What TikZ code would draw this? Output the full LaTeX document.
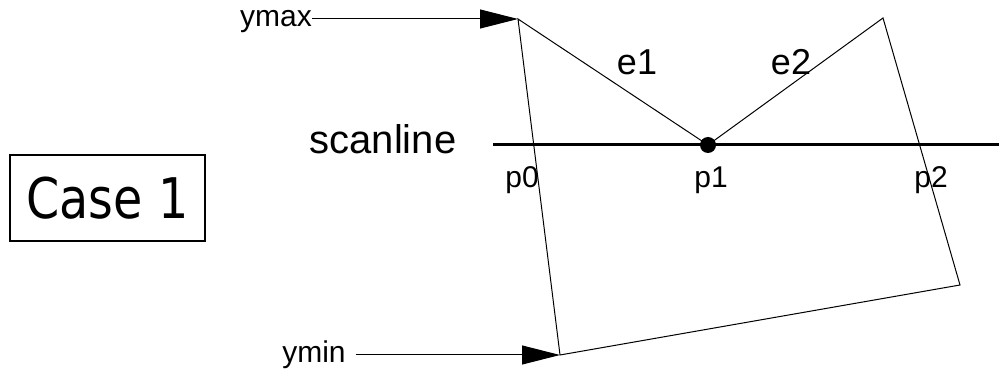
\documentclass[tikz,border=0pt]{standalone}
\usepackage{fontspec}
\setmainfont{Liberation Sans}
\newfontfamily\casefont[FakeStretch=0.85]{DejaVu Sans}
\usepackage{tikz}
\usetikzlibrary{arrows.meta,positioning}

\begin{document}
\begin{tikzpicture}[x=1pt, y=-1pt, >={Triangle[length=38pt,width=19pt]},
  edge/.style={line width=1pt},
  lbl/.style={inner sep=0pt, font=\fontsize{30}{30}\selectfont}]
\useasboundingbox (0,0) rectangle (999,371);
\coordinate (A) at (518,19);
\coordinate (B) at (708,145);
\coordinate (C) at (883,18);
\coordinate (D) at (960,285);
\coordinate (E) at (560,355);
\coordinate (Sa) at (493,145);
\coordinate (Sb) at (999,145);

\draw[edge] (A) -- (B) -- (C) -- (D) -- (E) -- cycle;
\draw[line width=3pt] (Sa) -- (Sb);
\node[circle, fill, inner sep=0pt, minimum size=16pt] (P1) at (B) {};

\node[lbl, font=\fontsize{40}{40}\selectfont] (scan) at (383,139) {scanline};
\node[lbl] (ymax) at (276,22) {ymax};
\node[lbl] (ymin) at (314,355) {ymin};
\draw[->, line width=1pt] (ymax.east |- A) -- (A);
\draw[->, line width=1pt] ([xshift=10pt]ymin.east) -- (E);

\node[lbl, font=\fontsize{36}{36}\selectfont] (e1) at (637,62) {e1};
\node[lbl, font=\fontsize{36}{36}\selectfont] (e2) at (791,62) {e2};
\node[lbl] (p0) at (522,180) {p0};
\node[lbl] (p1) at (711,180) {p1};
\node[lbl] (p2) at (931,180) {p2};

\node[draw, line width=1.2pt, minimum width=195pt, minimum height=86pt,
  font=\casefont\fontsize{56}{56}\selectfont] (case) at (107.5,198) {Case 1};
\end{tikzpicture}
\end{document}
